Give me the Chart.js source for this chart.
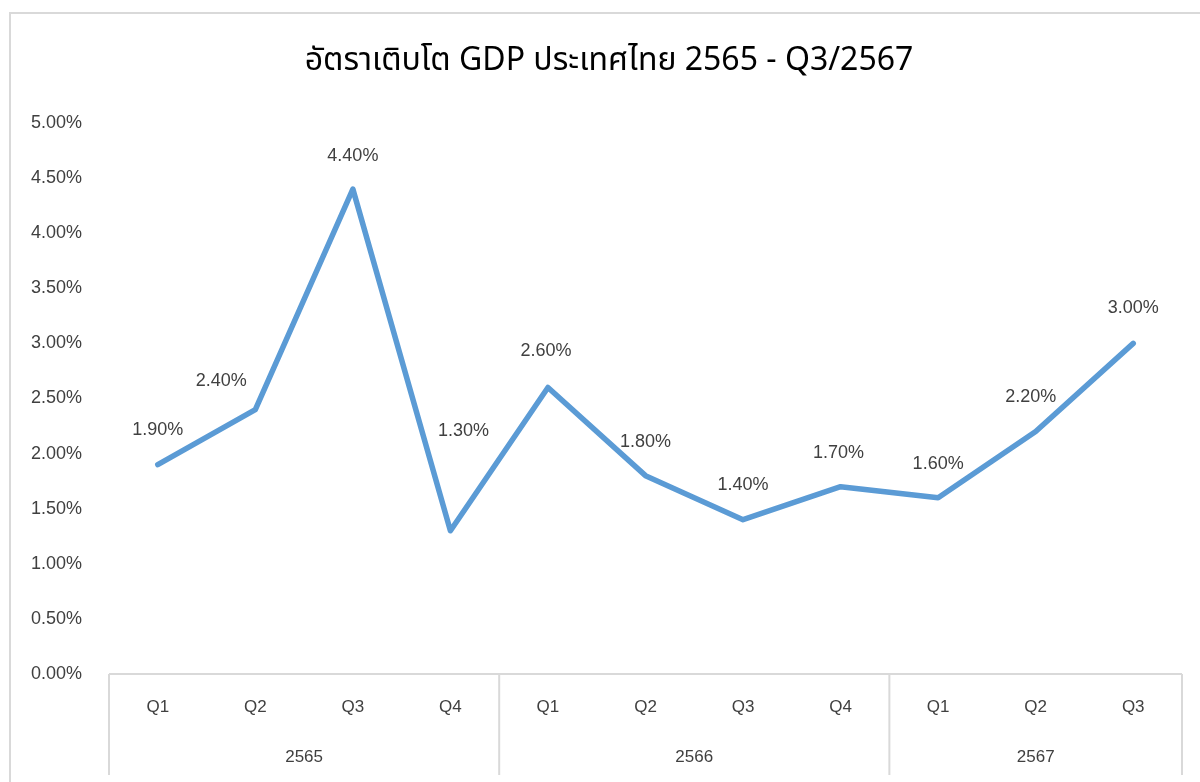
<!DOCTYPE html>
<html>
<head>
<meta charset="utf-8">
<script src="https://cdn.jsdelivr.net/npm/chart.js@4"></script>
<style>
  html, body { margin: 0; padding: 0; background: #fff; width: 1200px; height: 782px; overflow: hidden; }
  #frame { position: absolute; left: 9px; top: 12px; width: 1300px; height: 900px;
           border-left: 2px solid #d9d9d9; border-top: 2px solid #d9d9d9; }
  #wrap { position: absolute; left: 0; top: 0; width: 1200px; height: 782px; }
</style>
</head>
<body>
<div id="frame"></div>
<div id="wrap"><canvas id="c" width="1200" height="782"></canvas></div>
<script>
const titleText = 'อัตราเติบโต GDP ประเทศไทย 2565 - Q3/2567';
const quarters = ['Q1', 'Q2', 'Q3', 'Q4', 'Q1', 'Q2', 'Q3', 'Q4', 'Q1', 'Q2', 'Q3'];
const years = ['2565', '2566', '2567'];
const quartersPerYear = [4, 4, 3];
const growth = [1.9, 2.4, 4.4, 1.3, 2.6, 1.8, 1.4, 1.7, 1.6, 2.2, 3.0];
const yTicks = [0, 0.5, 1, 1.5, 2, 2.5, 3, 3.5, 4, 4.5, 5];
// data-label nudges (dx, dy in px) as placed in the original
const labelDx = [0, -34, 0, 13, -2, 0, 0, -2, 0, -5, 0];
const labelDy = [-35, -28, -33, -100, -36, -34, -35, -34, -34, -35, -35];

const labelFont = '18px "Liberation Sans", Arial, sans-serif';
const catFont = '17px "Liberation Sans", Arial, sans-serif';
const titleFont = '32px "Noto Sans Thai", "Noto Sans", "Liberation Sans", sans-serif';
const textColor = '#404040';
const lineColor = '#d9d9d9';

const multiAxis = {
  id: 'multiAxis',
  afterDraw(chart) {
    const ctx = chart.ctx;
    const x = chart.scales.x;
    const area = chart.chartArea;
    const bottom = 775;
    ctx.save();
    // title
    ctx.fillStyle = '#000';
    ctx.font = titleFont;
    ctx.textAlign = 'center';
    ctx.textBaseline = 'middle';
    ctx.fillText(titleText, 609, 64);
    // axis frame
    ctx.strokeStyle = lineColor;
    ctx.lineWidth = 2;
    ctx.beginPath();
    ctx.moveTo(area.left, area.bottom);
    ctx.lineTo(area.right, area.bottom);
    ctx.stroke();
    const bounds = [area.left];
    let idx = 0;
    quartersPerYear.forEach(n => {
      idx += n;
      if (idx < quarters.length) {
        bounds.push((x.getPixelForValue(idx - 1) + x.getPixelForValue(idx)) / 2);
      } else {
        bounds.push(area.right);
      }
    });
    bounds.forEach(b => {
      ctx.beginPath();
      ctx.moveTo(b, area.bottom);
      ctx.lineTo(b, bottom);
      ctx.stroke();
    });
    ctx.fillStyle = textColor;
    ctx.font = catFont;
    quarters.forEach((q, i) => {
      ctx.fillText(q, x.getPixelForValue(i), area.bottom + 33);
    });
    years.forEach((y, g) => {
      ctx.fillText(y, (bounds[g] + bounds[g + 1]) / 2, area.bottom + 83);
    });
    ctx.font = labelFont;
    const meta = chart.getDatasetMeta(0);
    meta.data.forEach((pt, i) => {
      ctx.fillText(growth[i].toFixed(2) + '%', pt.x + labelDx[i], pt.y + labelDy[i]);
    });
    ctx.restore();
  }
};

new Chart(document.getElementById('c'), {
  type: 'line',
  data: {
    labels: quarters.map((q, i) => i),
    datasets: [{
      data: growth,
      borderColor: '#5B9BD5',
      borderWidth: 5.5,
      pointRadius: 0,
      pointHoverRadius: 0,
      tension: 0,
      borderJoinStyle: 'round',
      borderCapStyle: 'round',
      fill: false
    }]
  },
  options: {
    responsive: false,
    animation: false,
    layout: { padding: { left: 0, right: 18, top: 123, bottom: 108 } },
    plugins: {
      legend: { display: false },
      tooltip: { enabled: false },
      title: { display: false }
    },
    scales: {
      x: { type: 'category', offset: true, display: false },
      y: {
        min: 0,
        max: 5,
        afterBuildTicks(scale) { scale.ticks = yTicks.map(v => ({ value: v })); },
        afterFit(scale) { scale.width = 109; },
        grid: { display: false, drawTicks: false },
        border: { display: false },
        ticks: {
          padding: 27,
          color: textColor,
          font: { family: '"Liberation Sans", Arial, sans-serif', size: 18 },
          callback: v => v.toFixed(2) + '%'
        }
      }
    }
  },
  plugins: [multiAxis]
});
</script>
</body>
</html>
